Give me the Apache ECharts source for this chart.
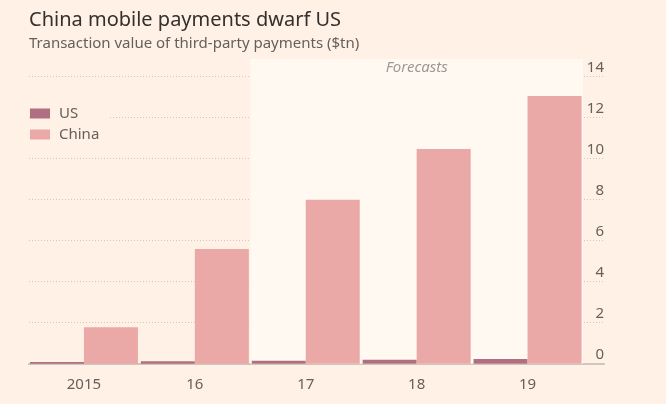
<!DOCTYPE html>
<html><head><meta charset="utf-8">
<script src="https://cdn.jsdelivr.net/npm/echarts@6/dist/echarts.min.js"></script>
<style>html,body{margin:0;padding:0;background:#fff1e5}#c{width:666px;height:404px}</style>
</head><body><div id="c"></div>
<script>
const categories = ['2015', '16', '17', '18', '19'];
const usValues = [0.08, 0.12, 0.15, 0.19, 0.23];
const chinaValues = [1.78, 5.6, 8.0, 10.47, 13.06];
const yMin = 0, yMax = 14, yInterval = 2;
const forecastFromIndex = 2, forecastToIndex = 5;
const titleText = 'China mobile payments dwarf US';
const subtitleText = 'Transaction value of third-party payments ($tn)';
const forecastText = 'Forecasts';

const FONT = 'Noto Sans';
const H = 404;
const plotBottom = 363.7, plotTop = 76.7, barTop = 59;
const barYMax = yMax * (plotBottom - barTop) / (plotBottom - plotTop);

const chart = echarts.init(document.getElementById('c'), null, {renderer: 'canvas'});
chart.setOption({
  backgroundColor: '#fff1e5',
  animation: false,
  textStyle: {fontFamily: FONT},
  title: [
    {text: titleText, left: 24, top: 5, textStyle: {fontFamily: FONT, fontSize: 20, fontWeight: 'normal', color: '#33302e'}},
    {text: subtitleText, left: 24, top: 31, textStyle: {fontFamily: FONT, fontSize: 15, fontWeight: 'normal', color: '#66605c'}}
  ],
  legend: {
    data: ['US', 'China'],
    orient: 'vertical', left: 30, top: 102,
    itemWidth: 20, itemHeight: 10, itemGap: 6,
    padding: [4, 10, 4, 0],
    backgroundColor: '#fff1e5',
    icon: 'rect',
    textStyle: {fontFamily: FONT, fontSize: 15, color: '#66605c', padding: [0, 0, 0, 4]}
  },
  grid: [
    {left: 29, right: 62, top: plotTop, bottom: H - plotBottom},
    {left: 28.5, right: 83, top: barTop, bottom: H - plotBottom}
  ],
  xAxis: [
    {gridIndex: 0, type: 'value', min: 0, max: 1,
     axisLine: {show: true, lineStyle: {color: '#cdc6bd', width: 2}},
     axisTick: {show: false}, axisLabel: {show: false}, splitLine: {show: false}},
    {gridIndex: 1, type: 'category', data: categories,
     axisLine: {show: false}, axisTick: {show: false},
     axisLabel: {fontFamily: FONT, fontSize: 15, color: '#66605c', margin: 14}},
    {gridIndex: 1, type: 'value', min: 0, max: categories.length, show: false}
  ],
  yAxis: [
    {gridIndex: 0, type: 'value', position: 'right', min: yMin, max: yMax, interval: yInterval, z: 1,
     axisLine: {show: false}, axisTick: {show: false},
     axisLabel: {inside: true, margin: 0, verticalAlign: 'bottom', padding: [0, 0, 1, 0],
       fontFamily: FONT, fontSize: 15, color: '#66605c'},
     splitLine: {show: true, lineStyle: {color: '#d0c7be', type: [1, 2], width: 1}}},
    {gridIndex: 1, type: 'value', min: 0, max: barYMax, show: false}
  ],
  series: [
    {name: 'forecast', type: 'line', xAxisIndex: 2, yAxisIndex: 1, data: [], z: 0, silent: true,
     markArea: {silent: true, itemStyle: {color: '#fff9f2'},
       label: {show: true, position: 'insideTop', distance: 1, formatter: forecastText,
         fontFamily: FONT, fontSize: 15, fontStyle: 'italic', color: '#9e9893'},
       data: [[{xAxis: forecastFromIndex, yAxis: barYMax}, {xAxis: forecastToIndex, yAxis: 0}]]}},
    {name: 'US', type: 'bar', xAxisIndex: 1, yAxisIndex: 1, data: usValues, barWidth: 54, barGap: '0%', z: 2,
     itemStyle: {color: '#b06f80'}},
    {name: 'China', type: 'bar', xAxisIndex: 1, yAxisIndex: 1, data: chinaValues, barWidth: 54, z: 2,
     itemStyle: {color: '#eaa8a7'}}
  ]
});
</script></body></html>
